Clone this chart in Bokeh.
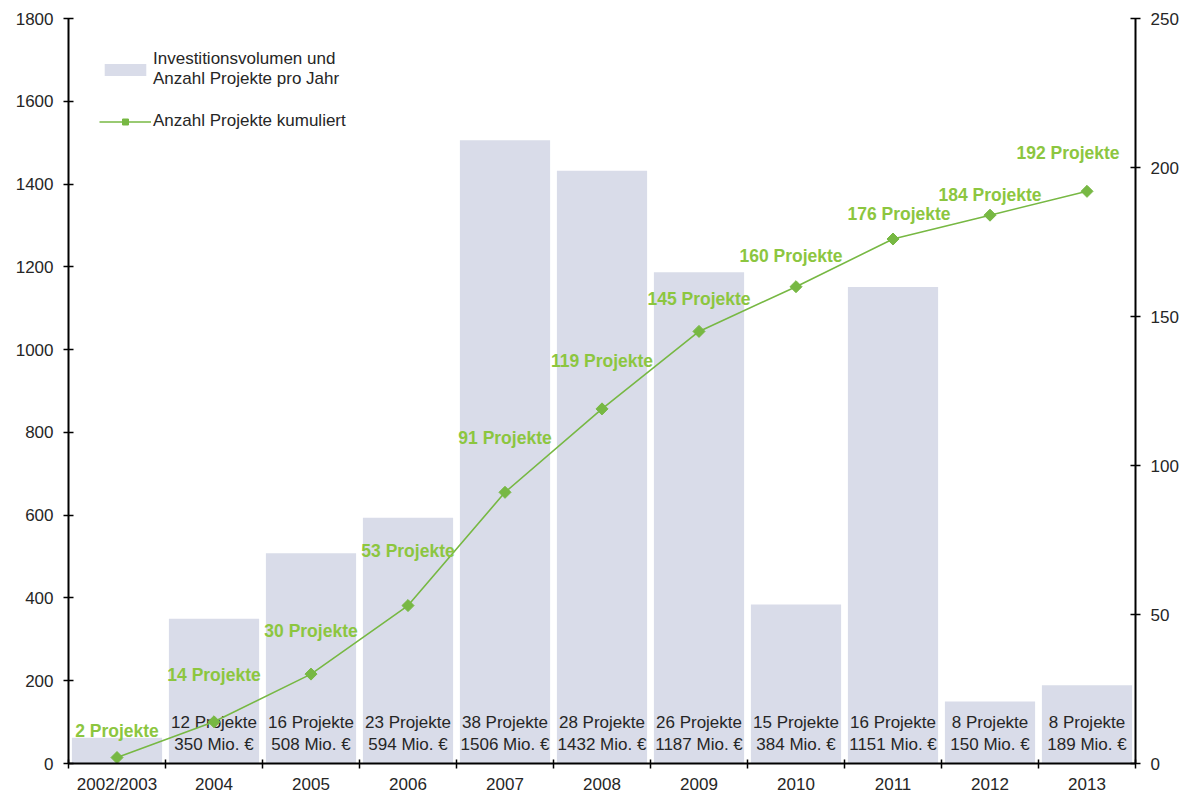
from bokeh.plotting import figure
from bokeh.models import (Range1d, LinearAxis, FixedTicker, ColumnDataSource,
                          Legend, LegendItem)
from bokeh.core.properties import value
from bokeh.embed import file_html
from bokeh.resources import INLINE

# ---- data ----
categories = ["2002/2003", "2004", "2005", "2006", "2007", "2008",
              "2009", "2010", "2011", "2012", "2013"]
invest_mio = [62, 350, 508, 594, 1506, 1432, 1187, 384, 1151, 150, 189]
projects_per_year = [2, 12, 16, 23, 38, 28, 26, 15, 16, 8, 8]
projects_cumulative = [2, 14, 30, 53, 91, 119, 145, 160, 176, 184, 192]
left_ticks = [0, 200, 400, 600, 800, 1000, 1200, 1400, 1600, 1800]
right_ticks = [0, 50, 100, 150, 200, 250]

# label nudges (pixels) for the cumulative labels
label_dx = [0, 0, 0, 0, 0, 0, 0, -5, 6, 0, -19]
label_dy = [-27, -47, -43, -55, -54, -48, -32, -31, -25, -20, -38]

FONT = "Liberation Sans"
BAR = "#d9dce9"
LINE = "#77b843"
GLABEL = "#8cc63f"
TXT = "#262626"

n = len(categories)
centers = [i + 0.5 for i in range(n)]
bounds = [float(i) for i in range(n + 1)]

bar_labels = [""] + [f"{c} Projekte\n{v} Mio. €"
                     for c, v in zip(projects_per_year[1:], invest_mio[1:])]
cum_labels = [f"{c} Projekte" for c in projects_cumulative]

src = ColumnDataSource(dict(x=centers, invest=invest_mio, cum=projects_cumulative,
                            blabel=bar_labels, clabel=cum_labels,
                            dx=label_dx, dy=label_dy,
                            zero=[0] * n))

p = figure(width=1184, height=796, output_backend="svg", toolbar_location=None,
           x_range=Range1d(0, n), y_range=Range1d(left_ticks[0], left_ticks[-1]),
           min_border_left=68, min_border_right=49, min_border_top=18,
           min_border_bottom=30)
p.extra_y_ranges = {"cnt": Range1d(right_ticks[0], right_ticks[-1])}
p.outline_line_color = None
p.xgrid.visible = False
p.ygrid.visible = False
p.background_fill_color = "white"

bars = p.vbar(x="x", top="invest", width=0.93, source=src, fill_color=BAR,
              line_color=None)

p.text(x="x", y="zero", text="blabel", source=src, text_align="center",
       text_baseline="bottom", y_offset=-9, text_font=value(FONT),
       text_font_size="17px", text_color=TXT, text_line_height=1.18)

line = p.line(x="x", y="cum", source=src, line_color=LINE, line_width=1.6,
              y_range_name="cnt")
marks = p.scatter(x="x", y="cum", source=src, marker="square", angle=0.785398,
                  size=8.5, fill_color=LINE, line_color=LINE, y_range_name="cnt")

p.text(x="x", y="cum", text="clabel", source=src, x_offset="dx", y_offset="dy",
       text_align="center", text_baseline="middle", text_font=value(FONT),
       text_font_size="17.5px", text_font_style="bold", text_color=GLABEL,
       y_range_name="cnt")

# axes
xa = p.xaxis[0]
xa.ticker = FixedTicker(ticks=centers, minor_ticks=bounds)
xa.major_label_overrides = {c: lab for c, lab in zip(centers, categories)}
xa.major_tick_line_color = None
xa.major_tick_out = 0
xa.major_tick_in = 0
xa.minor_tick_line_color = "black"
xa.minor_tick_line_width = 1.5
xa.minor_tick_out = 5
xa.minor_tick_in = 4
xa.major_label_standoff = 6

ya = p.yaxis[0]
ya.ticker = FixedTicker(ticks=left_ticks)
ya.minor_tick_line_color = None

ra = LinearAxis(y_range_name="cnt", ticker=FixedTicker(ticks=right_ticks))
ra.minor_tick_line_color = None
p.add_layout(ra, "right")

for ax in (xa, ya, ra):
    ax.axis_line_color = "black"
    ax.axis_line_width = 2
    ax.major_label_text_font = FONT
    ax.major_label_text_font_size = "17px"
    ax.major_label_text_color = TXT
for ax in (ya, ra):
    ax.major_tick_line_color = "black"
    ax.major_tick_line_width = 1.5
    ax.major_tick_out = 5
    ax.major_tick_in = 5
    ax.major_label_standoff = 10

legend = Legend(items=[
    LegendItem(label="Investitionsvolumen und\nAnzahl Projekte pro Jahr", renderers=[bars]),
    LegendItem(label="Anzahl Projekte kumuliert", renderers=[line, marks]),
], location="top_left", margin=31, padding=0, spacing=22,
    glyph_width=52, glyph_height=15, label_standoff=2,
    label_text_font=FONT, label_text_font_size="17px", label_text_color=TXT,
    border_line_color=None, background_fill_alpha=0)
p.add_layout(legend)

open("out.html", "w").write(file_html(p, INLINE))
